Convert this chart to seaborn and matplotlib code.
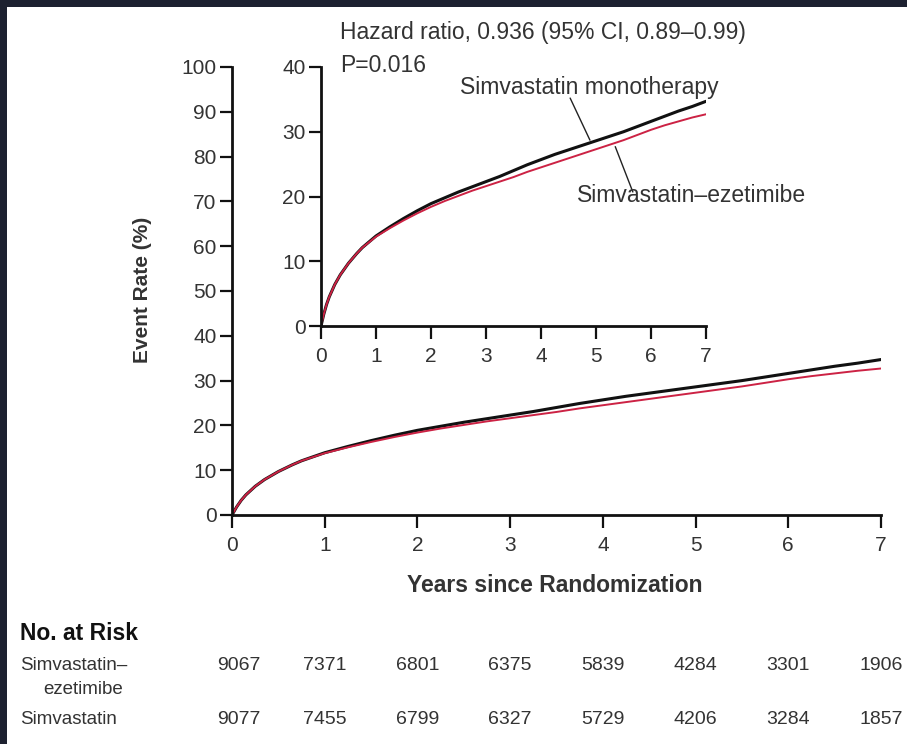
import numpy as np
import pandas as pd
import matplotlib
matplotlib.use("Agg")
import matplotlib.pyplot as plt
import matplotlib.transforms as mtransforms
from matplotlib.patches import Rectangle
import seaborn as sns

# ---------------- data ----------------
years = [0, 0.05, 0.1, 0.15, 0.25, 0.35, 0.5, 0.65, 0.75, 1.0, 1.25, 1.5, 1.75,
         2.0, 2.25, 2.5, 2.75, 3.0, 3.25, 3.5, 3.75, 4.0, 4.25, 4.5, 4.75,
         5.0, 5.25, 5.5, 5.75, 6.0, 6.25, 6.5, 6.75, 7.0]
mono = [0, 1.8, 3.3, 4.5, 6.4, 7.9, 9.7, 11.2, 12.1, 13.9, 15.3, 16.6, 17.8,
        18.9, 19.8, 20.7, 21.5, 22.3, 23.1, 24.0, 24.9, 25.7, 26.5, 27.2, 27.9,
        28.6, 29.3, 30.0, 30.8, 31.6, 32.4, 33.2, 33.9, 34.7]
ezet = [0, 1.8, 3.3, 4.5, 6.4, 7.9, 9.7, 11.2, 12.1, 13.8, 15.1, 16.3, 17.4,
        18.4, 19.3, 20.1, 20.9, 21.6, 22.3, 23.0, 23.8, 24.5, 25.2, 25.9, 26.6,
        27.3, 28.0, 28.7, 29.5, 30.3, 31.0, 31.6, 32.2, 32.7]
groups = ["Simvastatin monotherapy", "Simvastatin\u2013ezetimibe"]
risk_years = [0, 1, 2, 3, 4, 5, 6, 7]
risk_ezet = [9067, 7371, 6801, 6375, 5839, 4284, 3301, 1906]
risk_mono = [9077, 7455, 6799, 6327, 5729, 4206, 3284, 1857]
main_yticks = [0, 10, 20, 30, 40, 50, 60, 70, 80, 90, 100]
inset_yticks = [0, 10, 20, 30, 40]

df = pd.DataFrame({
    "Years": years + years,
    "Rate": mono + ezet,
    "Group": [groups[0]] * len(years) + [groups[1]] * len(years),
})

# ---------------- style ----------------
sns.set_theme(style="ticks")
plt.rcParams["font.family"] = ["Liberation Sans", "DejaVu Sans"]
TXT = "#333333"
palette = {groups[0]: "#111111", groups[1]: "#cc2244"}
sizes = {groups[0]: 2.2, groups[1]: 1.4}

W, H = 907, 744
fig = plt.figure(figsize=(W / 100, H / 100), dpi=100)
fig.patch.set_facecolor("white")

def fx(px):
    return px / W

def fy(py):
    return 1 - py / H

def style_axes(ax, yt, fs):
    for s in ["top", "right"]:
        ax.spines[s].set_visible(False)
    for s in ["left", "bottom"]:
        ax.spines[s].set_color("#111111")
        ax.spines[s].set_linewidth(2.0)
    ax.tick_params(axis="both", direction="out", length=9, width=1.6,
                   color="#111111", labelcolor=TXT, labelsize=fs, pad=2)
    ax.set_xticks(risk_years)
    ax.set_yticks(yt)
    ax.set_xlabel("")
    ax.set_ylabel("")
    ax.set_facecolor("none")

def draw_curves(target):
    for g in groups:
        sub = df[df["Group"] == g]
        sns.lineplot(data=sub, x="Years", y="Rate", ax=target, color=palette[g],
                     linewidth=sizes[g], legend=False, estimator=None)

# main axes
ax = fig.add_axes([fx(232), fy(515), fx(881) - fx(232), fy(67) - fy(515)])
draw_curves(ax)
ax.set_xlim(0, 7)
ax.set_ylim(0, 100)
style_axes(ax, main_yticks, 15)
ax.tick_params(axis="x", pad=6)

# inset axes
axi = fig.add_axes([fx(321), fy(326), fx(706) - fx(321), fy(67) - fy(326)])
draw_curves(axi)
axi.set_xlim(0, 7)
axi.set_ylim(0, 40)
style_axes(axi, inset_yticks, 15)
axi.tick_params(axis="x", pad=6)

# inset labels and leader lines
axi.text(2.53, 36.8, groups[0], ha="left", va="center", fontsize=16.5, color=TXT)
axi.text(4.65, 20.2, groups[1], ha="left", va="center", fontsize=16.5, color=TXT)
axi.plot([4.53, 4.89], [35.2, 28.7], color="#222222", lw=1.0)
axi.plot([5.35, 5.67], [27.7, 20.7], color="#222222", lw=1.0)

# header text
fig.text(fx(340), fy(33), "Hazard ratio, 0.936 (95% CI, 0.89\u20130.99)",
         ha="left", va="center", fontsize=16.5, color=TXT)
fig.text(fx(340), fy(65), "P=0.016", ha="left", va="center", fontsize=16.5, color=TXT)

# axis labels
fig.text(fx(143), fy(290), "Event Rate (%)", rotation=90, ha="center", va="center",
         fontsize=15, fontweight="bold", color=TXT)
fig.text(fx(555), fy(585), "Years since Randomization", ha="center", va="center",
         fontsize=16.5, fontweight="bold", color=TXT)

# number at risk table
fig.text(fx(20), fy(633), "No. at Risk", ha="left", va="center",
         fontsize=16.5, fontweight="bold", color="#111111")
fig.text(fx(20), fy(665), "Simvastatin\u2013", ha="left", va="center", fontsize=13.5, color=TXT)
fig.text(fx(43), fy(690), "ezetimibe", ha="left", va="center", fontsize=13.5, color=TXT)
fig.text(fx(20), fy(720), "Simvastatin", ha="left", va="center", fontsize=13.5, color=TXT)
trans = mtransforms.blended_transform_factory(ax.transData, fig.transFigure)
for i, (yr, a, b) in enumerate(zip(risk_years, risk_ezet, risk_mono)):
    xpos = yr + (0.07 if i == 0 else 0)
    fig.text(xpos, fy(665), f"{a}", transform=trans, ha="center", va="center",
             fontsize=14, color=TXT)
    fig.text(xpos, fy(720), f"{b}", transform=trans, ha="center", va="center",
             fontsize=14, color=TXT)

# dark frame strips (top and left)
fig.patches.append(Rectangle((0, fy(7)), 1, 1 - fy(7), transform=fig.transFigure,
                             facecolor="#1d2130", edgecolor="none", zorder=10))
fig.patches.append(Rectangle((0, 0), fx(7), 1, transform=fig.transFigure,
                             facecolor="#1d2130", edgecolor="none", zorder=10))

fig.savefig("out.png", dpi=100, facecolor="white")
